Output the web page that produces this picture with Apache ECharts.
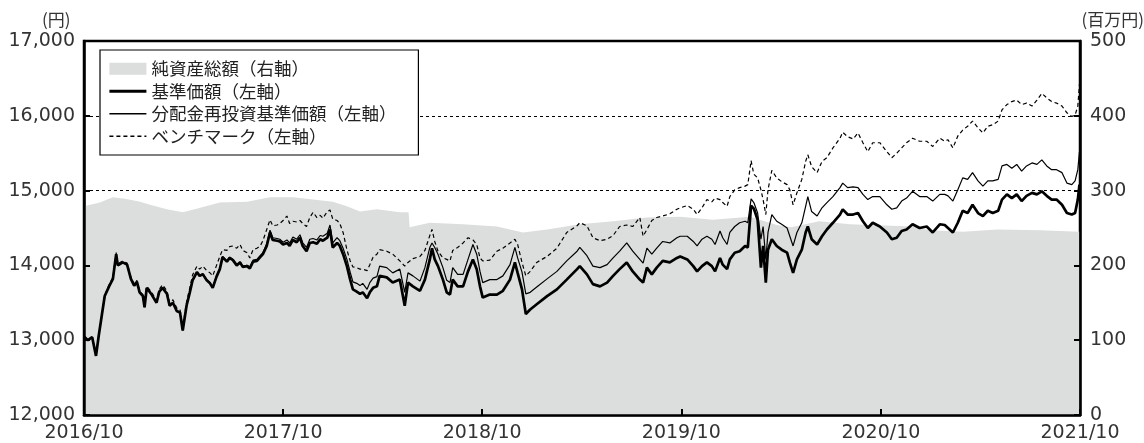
<!DOCTYPE html>
<html>
<head>
<meta charset="utf-8">
<script src="https://cdn.jsdelivr.net/npm/echarts@6/dist/echarts.min.js"></script>
<style>
  html, body { margin: 0; padding: 0; background: #fff; }
  #chart { width: 1144px; height: 443px; }
</style>
</head>
<body>
<div id="chart"></div>
<script>
// 日付（各系列共通）
var dates = [
  '2016-10-01','2016-10-08','2016-10-16','2016-10-23','2016-10-28','2016-11-03','2016-11-08','2016-11-16','2016-11-23','2016-11-29',
  '2016-12-02','2016-12-11','2016-12-19','2016-12-26','2017-01-01','2017-01-06','2017-01-11','2017-01-17','2017-01-20','2017-01-24',
  '2017-02-02','2017-02-11','2017-02-16','2017-02-22','2017-03-02','2017-03-07','2017-03-13','2017-03-20','2017-03-26','2017-03-31',
  '2017-04-07','2017-04-13','2017-04-18','2017-04-26','2017-05-01','2017-05-07','2017-05-14','2017-05-20','2017-05-25','2017-06-01',
  '2017-06-07','2017-06-12','2017-06-20','2017-06-25','2017-07-01','2017-07-08','2017-07-14','2017-07-19','2017-07-27','2017-08-01',
  '2017-08-07','2017-08-14','2017-08-20','2017-08-25','2017-09-01','2017-09-07','2017-09-12','2017-09-20','2017-09-25','2017-10-01',
  '2017-10-08','2017-10-13','2017-10-19','2017-10-26','2017-11-01','2017-11-06','2017-11-13','2017-11-19','2017-11-25','2017-12-02',
  '2017-12-08','2017-12-13','2017-12-21','2017-12-26','2017-12-31','2018-01-08','2018-01-13','2018-01-19','2018-01-26','2018-02-01',
  '2018-02-06','2018-02-13','2018-02-19','2018-02-24','2018-03-04','2018-03-09','2018-03-15','2018-03-22',
  '2018-03-27','2018-04-09','2018-04-20','2018-05-03','2018-05-12','2018-05-18','2018-05-27','2018-06-09','2018-06-18','2018-06-27',
  '2018-07-01','2018-07-06','2018-07-12','2018-07-21','2018-07-28','2018-08-03','2018-08-08','2018-08-17','2018-08-27','2018-09-05',
  '2018-09-14','2018-09-21','2018-09-27','2018-10-02','2018-10-15','2018-10-28','2018-11-08','2018-11-21','2018-11-30','2018-12-05',
  '2018-12-13','2018-12-20','2018-12-28','2019-01-09','2019-01-28','2019-02-15','2019-03-05','2019-03-24','2019-03-29','2019-04-11',
  '2019-04-22','2019-05-05','2019-05-18','2019-05-29','2019-06-10','2019-06-23','2019-07-04','2019-07-17','2019-07-23','2019-07-30',
  '2019-08-08','2019-08-17','2019-08-28','2019-09-10','2019-09-23','2019-09-29',
  '2019-10-12','2019-10-23','2019-10-30','2019-11-08','2019-11-17','2019-11-26','2019-12-02','2019-12-11','2019-12-16','2019-12-24',
  '2019-12-29','2020-01-07','2020-01-16','2020-01-26','2020-01-31','2020-02-06','2020-02-11','2020-02-18','2020-02-24','2020-02-28',
  '2020-03-04','2020-03-08','2020-03-15','2020-03-24','2020-04-02','2020-04-12','2020-04-17','2020-04-23','2020-04-30','2020-05-09',
  '2020-05-16','2020-05-20','2020-05-27','2020-06-06','2020-06-15','2020-06-24','2020-07-05','2020-07-18','2020-07-23','2020-08-01',
  '2020-08-11','2020-08-20','2020-08-29','2020-09-07','2020-09-16','2020-09-29','2020-10-12','2020-10-21','2020-10-30','2020-11-08',
  '2020-11-17','2020-11-28','2020-12-11','2020-12-24','2021-01-04','2021-01-17',
  '2021-01-26','2021-02-01','2021-02-10','2021-02-19','2021-02-28','2021-03-09','2021-03-18','2021-03-28','2021-04-06','2021-04-15',
  '2021-04-24','2021-05-04','2021-05-11','2021-05-20','2021-05-29','2021-06-07','2021-06-16','2021-06-25','2021-07-05','2021-07-14',
  '2021-07-23','2021-08-01','2021-08-10','2021-08-19','2021-08-29','2021-09-07','2021-09-16','2021-09-22','2021-09-27','2021-09-30'
];

// 基準価額（左軸）
var nav = [
  13050,13000,13040,12790,13060,13350,13590,13720,13820,14150,
  14000,14040,14010,13820,13730,13780,13640,13590,13440,13700,
  13610,13500,13650,13700,13620,13460,13500,13390,13370,13130,
  13460,13640,13800,13910,13860,13880,13800,13760,13700,13850,
  13950,14110,14050,14100,14070,14000,14040,13980,13990,13960,
  14050,14060,14110,14150,14260,14440,14340,14330,14320,14280,
  14300,14260,14340,14310,14370,14260,14190,14300,14310,14290,
  14350,14330,14370,14480,14240,14300,14260,14150,13990,13810,
  13680,13650,13620,13640,13560,13640,13700,13720,
  13860,13840,13770,13810,13460,13770,13720,13660,13810,14080,
  14230,14080,13990,13810,13640,13610,13810,13720,13720,13920,
  14080,13950,13720,13570,13610,13610,13660,13810,14040,13900,
  13680,13350,13410,13480,13590,13680,13810,13950,13990,13880,
  13750,13720,13770,13860,13950,14040,13920,13810,13770,13970,
  13880,13970,14060,14040,14100,14120,
  14080,13990,13920,13990,14040,13990,13920,14100,14010,13950,
  14080,14170,14190,14260,14240,14800,14760,14610,13970,14260,
  13770,14210,14350,14260,14210,14170,14040,13900,14080,14210,
  14440,14520,14350,14280,14390,14480,14570,14680,14750,14680,
  14680,14700,14590,14500,14570,14520,14440,14350,14370,14460,
  14480,14550,14500,14520,14440,14550,
  14540,14500,14440,14570,14730,14700,14810,14700,14660,14730,
  14700,14730,14880,14950,14900,14950,14860,14930,14970,14950,
  14990,14930,14880,14880,14810,14700,14680,14700,14880,15080
];

// 分配金再投資基準価額（左軸）
var navReinvest = [
  13050,13000,13040,12790,13060,13350,13590,13720,13820,14150,
  14000,14040,14010,13820,13730,13780,13640,13590,13440,13700,
  13610,13500,13650,13700,13620,13460,13500,13390,13370,13130,
  13460,13640,13800,13910,13870,13890,13810,13770,13710,13860,
  13960,14120,14060,14110,14080,14010,14050,13990,14000,13980,
  14070,14080,14130,14170,14290,14470,14370,14360,14350,14310,
  14340,14300,14380,14350,14410,14300,14240,14350,14360,14340,
  14400,14390,14430,14540,14300,14370,14330,14230,14080,13910,
  13780,13760,13730,13760,13680,13770,13830,13850,
  13990,13970,13900,13950,13640,13900,13860,13790,13970,14240,
  14300,14240,14150,13970,13800,13770,13970,13880,13880,14080,
  14280,14150,13920,13770,13810,13810,13860,14010,14240,14100,
  13910,13620,13640,13710,13820,13920,14060,14190,14240,14130,
  13990,13970,14010,14100,14190,14300,14190,14080,14030,14230,
  14150,14230,14320,14300,14370,14390,
  14390,14320,14260,14350,14390,14350,14280,14460,14370,14280,
  14440,14520,14570,14590,14570,14890,14840,14700,14350,14520,
  14080,14440,14680,14590,14550,14500,14390,14260,14440,14570,
  14790,14920,14720,14660,14770,14840,14920,15040,15100,15040,
  15050,15040,14950,14880,14920,14920,14810,14750,14770,14860,
  14900,14990,14920,14920,14860,14950,
  14950,14930,14860,15010,15170,15150,15240,15130,15060,15130,
  15130,15150,15330,15350,15300,15350,15260,15330,15370,15350,
  15410,15330,15280,15280,15240,15100,15080,15130,15280,15520
];

// ベンチマーク（左軸）
var benchmark = [
  13050,13000,13040,12800,13070,13360,13600,13740,13840,14170,
  14020,14060,14030,13840,13750,13800,13660,13610,13460,13720,
  13640,13530,13680,13740,13660,13500,13540,13430,13410,13170,
  13510,13700,13870,13990,13950,13990,13930,13900,13860,14000,
  14120,14210,14200,14250,14260,14230,14280,14200,14170,14100,
  14210,14230,14260,14330,14480,14610,14530,14540,14560,14600,
  14660,14560,14590,14580,14600,14560,14520,14640,14710,14640,
  14670,14630,14720,14740,14620,14600,14560,14440,14210,14060,
  13980,13970,13950,13950,13930,14010,14110,14150,
  14210,14190,14150,14060,13990,14040,14090,14120,14200,14400,
  14480,14320,14190,14100,14080,14060,14200,14240,14300,14370,
  14340,14280,14100,14060,14070,14190,14230,14300,14350,14280,
  14040,13860,13920,14040,14120,14230,14440,14530,14570,14530,
  14370,14330,14350,14400,14520,14540,14520,14640,14390,14480,
  14600,14640,14660,14690,14750,14770,
  14800,14750,14680,14770,14880,14850,14900,14880,14840,14790,
  14920,15010,15040,15060,15080,15400,15220,15170,15010,14880,
  14680,15010,15270,15170,15120,15080,15010,14810,14970,15150,
  15390,15480,15320,15240,15390,15440,15570,15700,15780,15720,
  15690,15770,15640,15520,15640,15640,15520,15440,15500,15570,
  15640,15700,15660,15660,15590,15700,
  15660,15680,15570,15730,15810,15860,15930,15840,15770,15860,
  15880,15930,16080,16150,16190,16210,16150,16170,16130,16210,
  16300,16240,16190,16170,16130,16040,15990,16010,16130,16420
];

// 純資産総額（右軸、百万円）
var assetDates = [
  '2016-10-01','2016-10-30','2016-11-23','2016-12-15','2017-01-12','2017-01-30','2017-03-02','2017-03-31','2017-04-22','2017-06-07',
  '2017-07-27','2017-09-07','2017-10-19','2017-11-25','2017-12-31','2018-01-26','2018-02-19','2018-03-22','2018-05-03','2018-05-19',
  '2018-05-21','2018-06-27','2018-08-27','2018-10-28','2018-12-15','2019-01-28','2019-03-29','2019-05-29','2019-07-30','2019-09-29',
  '2019-11-28','2020-02-04','2020-03-24','2020-04-20','2020-06-10','2020-08-05','2020-11-28','2020-12-30','2021-03-01','2021-05-02',
  '2021-07-20','2021-09-30'
];
var netAssets = [
  279,284,291,289,285,281,275,271,275,284,
  285,291,291,288,285,279,272,275,271,271,
  251,257,255,252,244,248,255,259,264,265,
  261,265,254,251,259,255,252,247,245,248,
  247,245
];

// 目盛ラベル
var xTickLabels = ['2016/10', '2017/10', '2018/10', '2019/10', '2020/10', '2021/10'];

(function () {
  var myChart = echarts.init(document.getElementById('chart'));
  var numFont = 'DejaVu Sans';
  var jpFont = 'Noto Sans CJK JP';

  // 'YYYY-MM-DD' → ローカル時刻のタイムスタンプ
  function toTime(s) {
    var p = s.split(/[-\/]/);
    return new Date(+p[0], +p[1] - 1, p[2] ? +p[2] : 1).getTime();
  }
  function pair(ds, vs) {
    return ds.map(function (d, i) { return [toTime(d), vs[i]]; });
  }
  var tickTimes = xTickLabels.map(toTime);

  var tickStyle = { show: true, inside: true, length: 6, lineStyle: { color: '#000', width: 2 } };
  var axisLineStyle = { show: true, onZero: false, lineStyle: { color: '#000', width: 2.5 } };
  var labelStyle = { color: '#333', fontFamily: numFont, fontSize: 19 };

  var option = {
    animation: false,
    grid: {
      left: 84, right: 64, top: 41, bottom: 27,
      show: true, borderColor: '#000', borderWidth: 2.5
    },
    legend: {
      orient: 'vertical',
      left: 100,
      top: 50,
      padding: [10, 22, 10, 8],
      itemWidth: 37,
      itemHeight: 12,
      itemGap: 5,
      borderColor: '#000',
      borderWidth: 1.2,
      backgroundColor: '#fff',
      // 線の凡例には丸印を出さない
      itemStyle: { opacity: 0 },
      textStyle: { fontFamily: jpFont, fontSize: 17.5, color: '#222' },
      data: [
        { name: '純資産総額（右軸）', icon: 'rect', itemStyle: { opacity: 1, color: '#dcdddd' } },
        { name: '基準価額（左軸）', lineStyle: { width: 2.8 } },
        { name: '分配金再投資基準価額（左軸）', lineStyle: { width: 1.3 } },
        { name: 'ベンチマーク（左軸）', lineStyle: { width: 1.3, type: [4, 3] } }
      ]
    },
    graphic: [
      { type: 'text', left: 42, top: 11, style: { text: '(円)', font: '17px "Noto Sans CJK JP"', fill: '#333' } },
      { type: 'text', right: 0, top: 11, style: { text: '(百万円)', font: '17px "Noto Sans CJK JP"', fill: '#333' } }
    ],
    xAxis: {
      type: 'value',
      min: tickTimes[0],
      max: tickTimes[tickTimes.length - 1],
      z: 5,
      axisLine: axisLineStyle,
      axisTick: { show: true, inside: true, length: 6, customValues: tickTimes, lineStyle: { color: '#000', width: 2 } },
      axisLabel: {
        customValues: tickTimes,
        margin: 9,
        color: '#333', fontFamily: numFont, fontSize: 19,
        formatter: function (v) {
          return xTickLabels[tickTimes.indexOf(v)];
        }
      },
      splitLine: { show: false }
    },
    yAxis: [
      {
        type: 'value', position: 'left', min: 12000, max: 17000, interval: 1000, z: 5,
        axisLine: axisLineStyle,
        axisTick: tickStyle,
        axisLabel: Object.assign({ margin: 9, formatter: function (v) { return echarts.format.addCommas(v); } }, labelStyle),
        splitLine: { show: false }
      },
      {
        type: 'value', position: 'right', min: 0, max: 500, interval: 100, z: 5,
        axisLine: axisLineStyle,
        axisTick: tickStyle,
        axisLabel: Object.assign({ margin: 10 }, labelStyle),
        splitLine: { show: false }
      },
      {
        // 破線の目盛線だけを描く（純資産の面の下に来るように）
        type: 'value', position: 'left', min: 12000, max: 17000, interval: 1000,
        axisLine: { show: false }, axisTick: { show: false }, axisLabel: { show: false },
        splitLine: { show: true, lineStyle: { color: '#000', width: 1, type: [3, 3] } }
      }
    ],
    series: [
      {
        name: '純資産総額（右軸）',
        type: 'line',
        yAxisIndex: 1,
        data: pair(assetDates, netAssets),
        symbol: 'none',
        itemStyle: { color: '#dcdddd' },
        lineStyle: { width: 0 },
        areaStyle: { color: '#dcdddd', opacity: 1 },
        z: 1
      },
      {
        name: 'ベンチマーク（左軸）',
        type: 'line',
        data: pair(dates, benchmark),
        symbol: 'none',
        itemStyle: { color: '#000' },
        lineStyle: { color: '#000', width: 1.2, type: [4, 3] }
      },
      {
        name: '分配金再投資基準価額（左軸）',
        type: 'line',
        data: pair(dates, navReinvest),
        symbol: 'none',
        itemStyle: { color: '#000' },
        lineStyle: { color: '#000', width: 1.2 }
      },
      {
        name: '基準価額（左軸）',
        type: 'line',
        data: pair(dates, nav),
        symbol: 'none',
        itemStyle: { color: '#000' },
        lineStyle: { color: '#000', width: 2.7 }
      }
    ]
  };

  myChart.setOption(option);

  window.addEventListener('resize', function () {
    myChart.resize();
  });
})();
</script>
</body>
</html>
